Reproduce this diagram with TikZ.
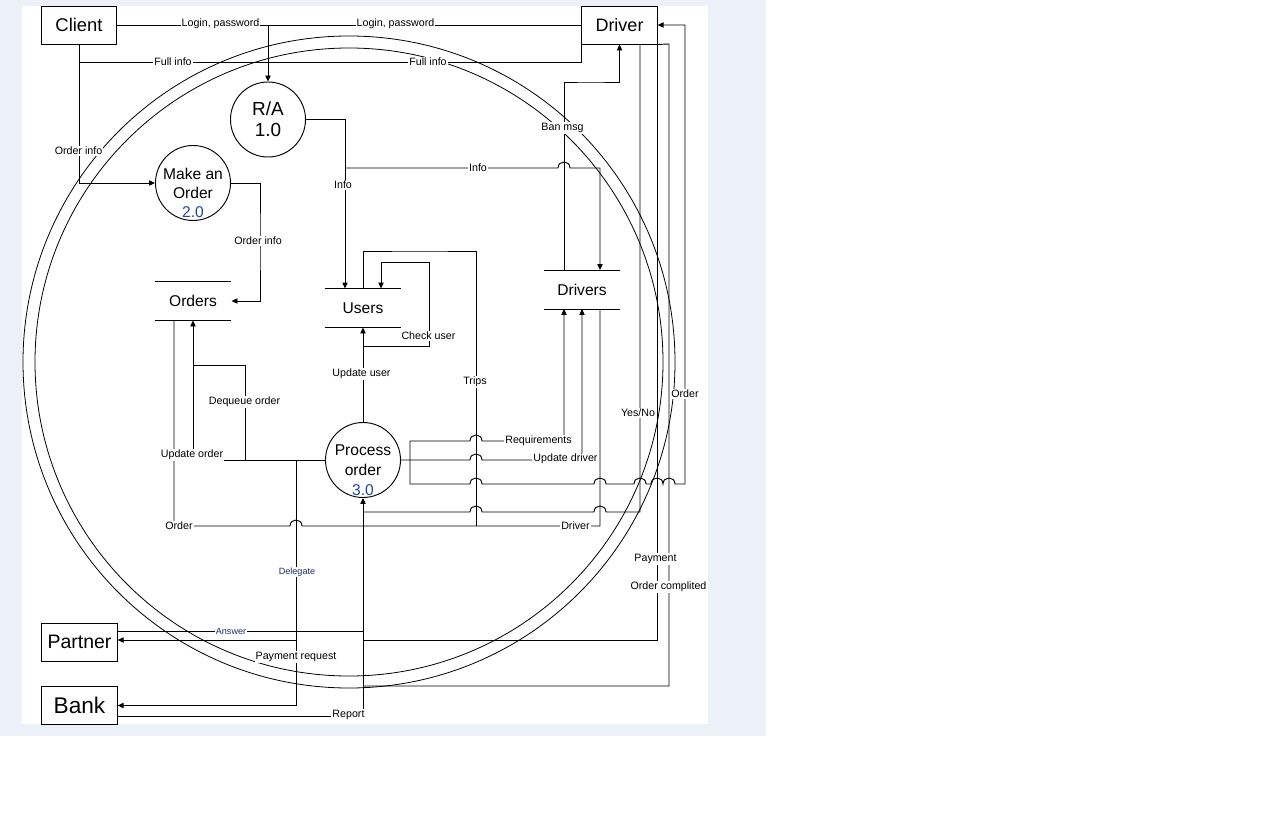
\documentclass[tikz,border=0pt]{standalone}
\usepackage{fontspec}
\setmainfont{Liberation Sans}
\usetikzlibrary{arrows.meta,calc}
\definecolor{bgblue}{RGB}{235,240,249}
\definecolor{numblue}{RGB}{40,70,150}
\definecolor{lblblue}{RGB}{30,45,110}
\newcommand\hopR[2]{-- ({#1-6},#2) .. controls ({#1-6},{#2-8}) and ({#1+6},{#2-8}) .. ({#1+6},#2)}
\newcommand\hopL[2]{-- ({#1+6},#2) .. controls ({#1+6},{#2-8}) and ({#1-6},{#2-8}) .. ({#1-6},#2)}
\begin{document}
\begin{tikzpicture}[x=0.75pt,y=-0.75pt,line width=0.7pt,
  arr/.style={-{Triangle[length=4.5pt,width=4pt]}},
  arrs/.style={{Triangle[length=4.5pt,width=4pt]}-{Triangle[length=4.5pt,width=4pt]}},
  ent/.style={draw,fill=white,minimum width=56.5pt,minimum height=28.5pt,inner sep=0pt},
  proc/.style={draw,circle,fill=white,minimum size=56.25pt,inner sep=0pt},
  store/.style={minimum width=57pt,minimum height=28.5pt,inner sep=0pt,font=\fontsize{11.7}{14}\selectfont},
  lbl/.style={fill=white,inner sep=0.8pt,font=\fontsize{8}{9.6}\selectfont},
  lblb/.style={fill=white,inner sep=0.8pt,text=lblblue,font=\fontsize{6.8}{8}\selectfont},
  ptext/.style={align=center,inner sep=0pt}
]
\useasboundingbox (0,0) rectangle (1274,820);
\fill[bgblue] (0,0) rectangle (766,736);
\fill[white] (22,6) rectangle (708,724);

% context circles
\draw[line width=0.6pt] (349,362) circle[radius=244.5pt];
\draw[line width=0.6pt] (349,362) circle[radius=235.5pt];

% external entities
\node[ent,font=\fontsize{13.8}{16}\selectfont] (client) at (79,25) {Client};
\node[ent,font=\fontsize{13.5}{16}\selectfont] (driver) at (619.5,25) {Driver};
\node[ent,font=\fontsize{14.6}{17}\selectfont] (partner) at (79.5,642) {Partner};
\node[ent,font=\fontsize{17}{19}\selectfont] (bank) at (79.5,705.5) {Bank};

% processes
\node[proc,align=center,font=\fontsize{14.2}{15.75}\selectfont] (ra) at (268,119.5) {R/A\\1.0};
\node[proc] (mo) at (193,183) {};
\node[ptext,font=\fontsize{11.7}{14.25}\selectfont] (mot) at (193,193) {Make an\\Order\\\textcolor{numblue}{2.0}};
\node[proc] (po) at (363,460) {};
\node[ptext,font=\fontsize{11.7}{14.8}\selectfont] (pot) at (363,470) {Process\\order\\\textcolor{numblue}{3.0}};

% data stores
\node[store] (orders) at (193,301) {Orders};
\node[store] (users) at (363,308) {Users};
\node[store] (drivers) at (582,289.5) {Drivers};
\foreach \s in {orders,users,drivers}{
  \draw (\s.north west) -- (\s.north east);
  \draw (\s.south west) -- (\s.south east);
}

% Login, password
\coordinate (lj) at (268,25);
\draw (client.east) -- (driver.west);
\draw[arr] (lj) -- (ra.north);

% Full info
\coordinate (fj) at (79,62);
\draw (fj) -| (driver.south west);

% Order info
\draw[arr] (client.south) |- (mo.west);
\draw[arr] (mo.east) -| (260,241) |- (orders.east);

% Info
\coordinate (ij) at (345,168);
\draw[arr] (ra.east) -| ([xshift=-13.5pt]users.north);
\draw[arr] (ij) \hopR{564}{168} -| ([xshift=13.5pt]drivers.north);

% Ban msg
\draw[arr] ([xshift=-13.5pt]drivers.north) |- (590,82) -| (driver.south);

% Check user, Update user, Trips
\coordinate (cj) at (363,346);
\draw[arr] (cj) -| (429,262) -| ([xshift=13.5pt]users.north);
\draw[arr] (po.north) -- (users.south);
\coordinate (tj) at (476,526);
\draw (users.north) |- (420,251) -| (tj);

% Order / Driver line
\draw ([xshift=-14.25pt]orders.south) -- (174,526) \hopR{296}{526} -| ([xshift=13.5pt]drivers.south);

% Update order, Dequeue order
\draw[arr] (po.west) -| (orders.south);
\coordinate (dj) at (245,460);
\draw (dj) |- (193,365);

% Delegate
\coordinate (gj) at (296,460);
\draw[arr] (gj) |- (bank.east);
\coordinate (pj) at (296,640);
\draw[arr] (pj) -- (pj -| partner.east);

% Answer
\coordinate (aj) at (363,631);
\draw (aj) -- (aj -| partner.east);

% Report
\draw[arr] ([yshift=-7.9pt]bank.east) -| (po.south);

% Payment
\coordinate (payj) at (363,640);
\draw (driver.south east) |- (payj);

% Order complited
\coordinate (ocj) at (363,686);
\draw (driver.south east) -- (669,44) |- (ocj);

% Yes/No
\coordinate (yj) at (363,512);
\draw (yj) \hopR{476}{512} \hopR{600}{512} -| ([xshift=15.375pt]driver.south);

% Requirements / Order
\draw[arrs] ([xshift=-13.5pt]drivers.south) |- (500,441) \hopL{476}{441} -- (410,441) -- (410,484)
  \hopR{476}{484} \hopR{600}{484} \hopR{640}{484} \hopR{657}{484} \hopR{669}{484} -- (685,484) |- (driver.east);

% Update driver
\draw[arr] (po.east) \hopR{476}{460} -| (drivers.south);

% labels
\node[lbl] (t1) at (220.5,24) {Login, password};
\node[lbl] (t2) at (395.5,24) {Login, password};
\node[lbl] (t3) at (173,62) {Full info};
\node[lbl] (t4) at (428,62) {Full info};
\node[lbl] (t5) at (78.5,151) {Order info};
\node[lbl] (t6) at (258,241) {Order info};
\node[lbl] (t7) at (343,185) {Info};
\node[lbl] (t8) at (478,168) {Info};
\node[lbl] (t9) at (562.5,128) {Ban msg};
\node[lbl] (t10) at (428.5,336) {Check user};
\node[lbl] (t11) at (361.5,374) {Update user};
\node[lbl] (t12) at (244.5,402) {Dequeue order};
\node[lbl] (t13) at (475,382) {Trips};
\node[lbl] (t14) at (192,455) {Update order};
\node[lbl] (t15) at (179,526) {Order};
\node[lblb] (t16) at (297,572) {Delegate};
\node[lblb] (t17) at (231,631) {Answer};
\node[lbl] (t18) at (296,657) {Payment request};
\node[lbl] (t19) at (348.5,715) {Report};
\node[lbl] (t20) at (538.5,441) {Requirements};
\node[lbl] (t21) at (565.5,459) {Update driver};
\node[lbl] (t22) at (575.5,526) {Driver};
\node[lbl] (t23) at (638,413) {Yes/No};
\node[lbl] (t24) at (685,394) {Order};
\node[lbl] (t25) at (655.5,559) {Payment};
\node[lbl] (t26) at (668.5,587) {Order complited};
\end{tikzpicture}
\end{document}
